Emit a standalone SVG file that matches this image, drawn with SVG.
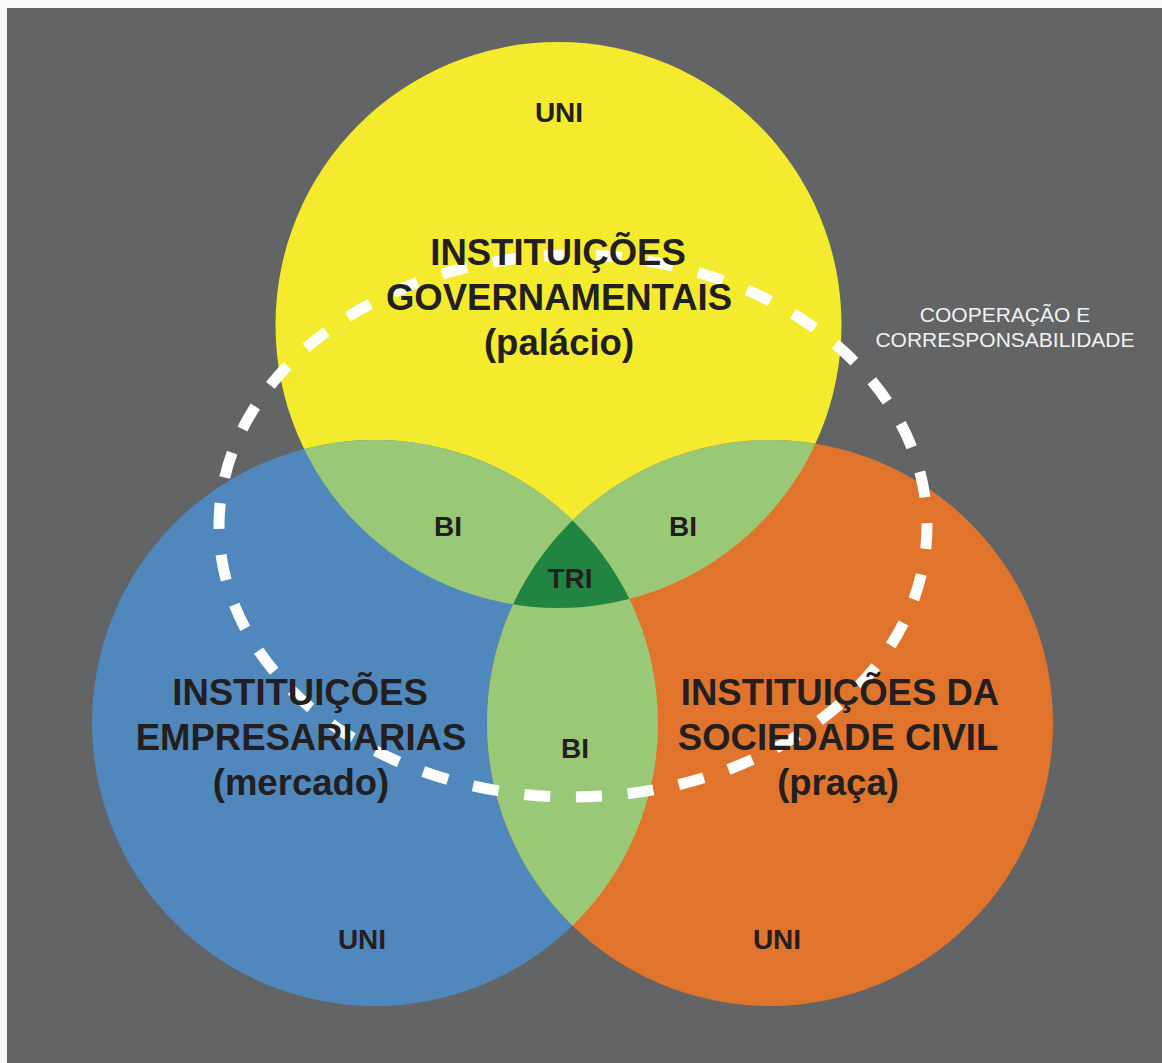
<svg xmlns="http://www.w3.org/2000/svg" width="1162" height="1063" viewBox="0 0 1162 1063">
  <style>
    .big { font-family: "Liberation Sans", Arial, sans-serif; font-weight: bold; font-size: 36.5px; fill: #231f20; text-anchor: middle; }
    .small { font-family: "Liberation Sans", Arial, sans-serif; font-weight: bold; font-size: 28px; fill: #231f20; text-anchor: middle; }
    .note { font-family: "Liberation Sans", Arial, sans-serif; font-size: 21px; fill: #f2f2f2; text-anchor: middle; }
    .lg { fill: #99c976; }
    .dg { fill: #218541; }
  </style>
  <defs>
    <clipPath id="clipY"><circle cx="558.5" cy="325" r="283"/></clipPath>
    <clipPath id="clipB"><circle cx="375" cy="723" r="283"/></clipPath>
  </defs>

  <rect x="0" y="0" width="1162" height="1063" fill="#f9f9f9"/>
  <rect x="7" y="8" width="1155" height="1055" fill="#636466"/>

  <g id="gov">
    <circle cx="558.5" cy="325" r="283" fill="#f4eb2f"/>
  </g>
  <g id="emp">
    <circle cx="375" cy="723" r="283" fill="#5087bd"/>
  </g>
  <g id="civ">
    <circle cx="770" cy="723" r="283" fill="#e0742c"/>
  </g>

  <g id="overlaps">
    <g clip-path="url(#clipY)">
      <circle class="lg" cx="375" cy="723" r="283"/>
      <circle class="lg" cx="770" cy="723" r="283"/>
    </g>
    <g clip-path="url(#clipB)">
      <circle class="lg" cx="770" cy="723" r="283"/>
    </g>
    <g clip-path="url(#clipY)">
      <g clip-path="url(#clipB)">
        <circle class="dg" cx="770" cy="723" r="283"/>
      </g>
    </g>
  </g>

  <g id="connectors">
    <path d="M573,255 A354,271 0 1,1 573,797 A354,271 0 1,1 573,255 Z" fill="none" stroke="#ffffff" stroke-width="11" pathLength="1976" stroke-dasharray="26 26" stroke-dashoffset="29"/>
  </g>

  <g id="gov-labels">
    <text class="small" x="559" y="122">UNI</text>
    <text class="big" x="558" y="265">INSTITUIÇÕES</text>
    <text class="big" x="559" y="310">GOVERNAMENTAIS</text>
    <text class="big" x="559" y="355">(palácio)</text>
  </g>
  <g id="emp-labels">
    <text class="big" x="300" y="705">INSTITUIÇÕES</text>
    <text class="big" x="301" y="750">EMPRESARIARIAS</text>
    <text class="big" x="301" y="795">(mercado)</text>
    <text class="small" x="362" y="949">UNI</text>
  </g>
  <g id="civ-labels">
    <text class="big" x="840" y="705">INSTITUIÇÕES DA</text>
    <text class="big" x="838" y="750">SOCIEDADE CIVIL</text>
    <text class="big" x="838" y="795">(praça)</text>
    <text class="small" x="777" y="949">UNI</text>
  </g>
  <g id="overlap-labels">
    <text class="small" x="448" y="536">BI</text>
    <text class="small" x="683" y="536">BI</text>
    <text class="small" x="575" y="758">BI</text>
    <text class="small" x="570" y="588">TRI</text>
  </g>
  <g id="cooperation-label">
    <text class="note" x="1005" y="322">COOPERAÇÃO E</text>
    <text class="note" x="1005" y="347">CORRESPONSABILIDADE</text>
  </g>
</svg>
